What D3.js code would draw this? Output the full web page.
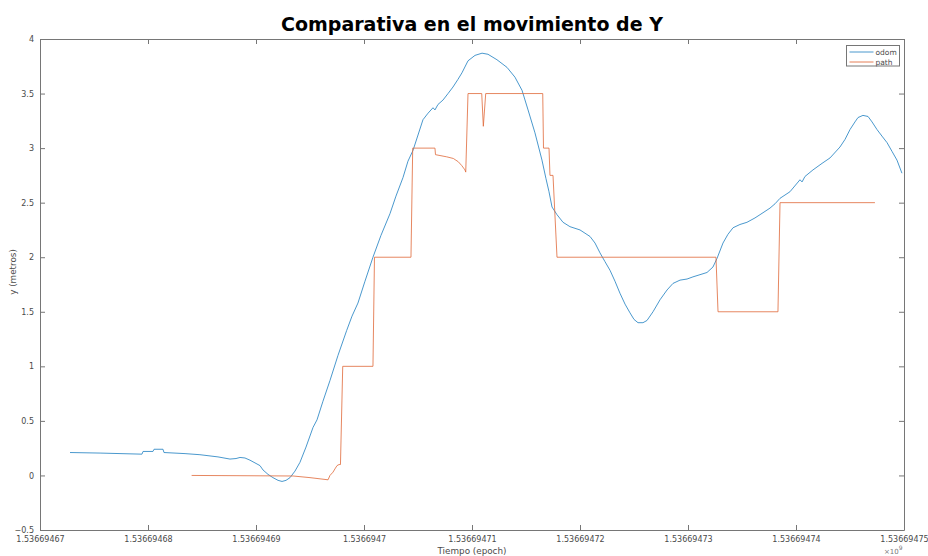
<!DOCTYPE html>
<html>
<head>
<meta charset="utf-8">
<script src="https://cdn.jsdelivr.net/npm/d3@7"></script>
<style>
  html, body { margin: 0; padding: 0; background: #fff; }
  svg { display: block; font-family: "DejaVu Sans", sans-serif; }
</style>
</head>
<body>
<svg id="chart" width="928" height="556"></svg>
<script>
// Odometry Y position over time (epoch seconds)
const odomT = [
  1536694672.78, 1536694675.56, 1536694679.44, 1536694679.54, 1536694680.46, 1536694680.56,
  1536694681.39, 1536694681.48, 1536694683.43, 1536694684.81, 1536694686.48, 1536694687.59,
  1536694688.15, 1536694688.52, 1536694688.98, 1536694689.44, 1536694690.00, 1536694690.37,
  1536694690.65, 1536694691.11, 1536694691.57, 1536694692.04, 1536694692.41, 1536694692.78,
  1536694693.15, 1536694693.61, 1536694694.07, 1536694694.63, 1536694695.28, 1536694695.65,
  1536694696.20, 1536694696.85, 1536694697.59, 1536694698.40, 1536694698.89, 1536694699.44,
  1536694700.09, 1536694700.83, 1536694701.57, 1536694702.41, 1536694702.96, 1536694703.61,
  1536694704.07, 1536694704.54, 1536694705.00, 1536694705.46, 1536694705.93, 1536694706.39,
  1536694706.57, 1536694706.85, 1536694707.31, 1536694707.78, 1536694708.24, 1536694708.70,
  1536694709.07, 1536694709.63, 1536694710.28, 1536694710.93, 1536694711.48, 1536694712.31,
  1536694713.24, 1536694713.98, 1536694714.63, 1536694715.19, 1536694715.83, 1536694716.48,
  1536694716.85, 1536694717.13, 1536694717.41, 1536694717.87, 1536694718.43, 1536694719.07,
  1536694720.00, 1536694720.93, 1536694721.39, 1536694721.85, 1536694722.31, 1536694722.78,
  1536694723.24, 1536694723.70, 1536694724.17, 1536694724.63, 1536694725.00, 1536694725.37,
  1536694725.83, 1536694726.20, 1536694726.76, 1536694727.41, 1536694728.06, 1536694728.61,
  1536694729.26, 1536694729.91, 1536694730.46, 1536694731.11, 1536694731.76, 1536694732.31,
  1536694732.69, 1536694733.24, 1536694733.70, 1536694734.17, 1536694734.81, 1536694735.46,
  1536694736.20, 1536694736.67, 1536694737.13, 1536694737.59, 1536694738.06, 1536694738.52,
  1536694739.44, 1536694740.37, 1536694740.56, 1536694740.83, 1536694741.57, 1536694742.41,
  1536694743.15, 1536694744.07, 1536694744.54, 1536694745.00, 1536694745.46, 1536694745.74,
  1536694746.20, 1536694746.67, 1536694747.04, 1536694747.50, 1536694747.96, 1536694748.43,
  1536694748.89, 1536694749.35, 1536694749.81
];
const odomY = [
  0.21, 0.205, 0.195, 0.22, 0.22, 0.24,
  0.24, 0.21, 0.20, 0.19, 0.17, 0.15,
  0.155, 0.165, 0.16, 0.14, 0.11, 0.09,
  0.05, 0.01, -0.02, -0.045, -0.055, -0.045,
  -0.02, 0.04, 0.12, 0.26, 0.44, 0.51,
  0.68, 0.87, 1.10, 1.33, 1.46, 1.58,
  1.78, 2.00, 2.20, 2.40, 2.56, 2.73,
  2.88, 2.98, 3.12, 3.26, 3.32, 3.37,
  3.35, 3.40, 3.44, 3.50, 3.56, 3.63,
  3.69, 3.80, 3.85, 3.87, 3.86, 3.81,
  3.74, 3.65, 3.53, 3.35, 3.14, 2.89,
  2.72, 2.60, 2.46, 2.39, 2.32, 2.28,
  2.25, 2.19, 2.13, 2.04, 1.96, 1.88,
  1.78, 1.67, 1.57, 1.49, 1.43, 1.40,
  1.40, 1.42, 1.50, 1.61, 1.70, 1.76,
  1.79, 1.80, 1.82, 1.84, 1.86, 1.91,
  1.99, 2.13, 2.21, 2.27, 2.30, 2.32,
  2.36, 2.39, 2.42, 2.45, 2.49, 2.54,
  2.60, 2.71, 2.69, 2.74, 2.80, 2.86,
  2.91, 3.01, 3.08, 3.17, 3.24, 3.28,
  3.30, 3.29, 3.24, 3.17, 3.11, 3.05,
  2.97, 2.89, 2.77
];

// Planned path Y position over time (epoch seconds)
const pathT = [
  1536694684.04, 1536694693.43, 1536694695.00, 1536694696.67, 1536694696.85, 1536694697.13,
  1536694697.31, 1536694697.50, 1536694697.69, 1536694697.82, 1536694698.03, 1536694700.83,
  1536694700.97, 1536694704.35, 1536694704.51, 1536694706.57, 1536694706.62, 1536694707.66,
  1536694708.27, 1536694708.73, 1536694709.05, 1536694709.35, 1536694709.42, 1536694709.63,
  1536694710.90, 1536694711.05, 1536694711.27, 1536694716.55, 1536694716.62, 1536694717.13,
  1536694717.22, 1536694717.50, 1536694717.87, 1536694732.59, 1536694732.78, 1536694738.33,
  1536694738.52, 1536694747.31
];
const pathY = [
  0.0, -0.005, -0.02, -0.04, 0.0, 0.03,
  0.06, 0.09, 0.10, 0.10, 1.0, 1.0,
  2.0, 2.0, 3.0, 3.0, 2.94, 2.92,
  2.905, 2.875, 2.84, 2.80, 2.78, 3.5,
  3.5, 3.2, 3.5, 3.5, 3.0, 3.0,
  2.75, 2.75, 2.0, 2.0, 1.5, 1.5,
  2.5, 2.5
];

const xTicks = [1536694670, 1536694680, 1536694690, 1536694700, 1536694710,
                1536694720, 1536694730, 1536694740, 1536694750];
const xTickLabels = ["1.53669467", "1.53669468", "1.53669469", "1.5366947", "1.53669471",
                     "1.53669472", "1.53669473", "1.53669474", "1.53669475"];
const yTicks = [-0.5, 0, 0.5, 1, 1.5, 2, 2.5, 3, 3.5, 4];

const seriesNames = ["odom", "path"];
const seriesColors = ["#2a86c4", "#e0693a"];

const titleText = "Comparativa en el movimiento de Y";
const xLabel = "Tiempo (epoch)";
const yLabel = "y (metros)";

const svg = d3.select("#chart");
const plotLeft = 40, plotRight = 904, plotTop = 39, plotBottom = 530;

const x = d3.scaleLinear().domain([xTicks[0], xTicks[xTicks.length - 1]]).range([plotLeft, plotRight]);
const y = d3.scaleLinear().domain([-0.5, 4]).range([plotBottom, plotTop]);

const axisColor = "#767676";
const textColor = "#4a4a4a";
const tickLen = 5;

// data lines
const odom = odomT.map((t, i) => [t, odomY[i]]);
const pathPts = pathT.map((t, i) => [t, pathY[i]]);
const line = d3.line().x(d => x(d[0])).y(d => y(d[1]));

const plot = svg.append("g");
plot.append("path").datum(odom)
  .attr("d", line).attr("fill", "none")
  .attr("stroke", seriesColors[0]).attr("stroke-width", 1).attr("stroke-opacity", 0.85);
plot.append("path").datum(pathPts)
  .attr("d", line).attr("fill", "none")
  .attr("stroke", seriesColors[1]).attr("stroke-width", 1).attr("stroke-opacity", 0.8);

// axes (boxed, ticks inward on all four sides)
const fmtX = d => xTickLabels[xTicks.indexOf(d)];
const bottomAxis = svg.append("g").attr("transform", `translate(0,${plotBottom})`)
  .call(d3.axisBottom(x).tickValues(xTicks).tickFormat(fmtX).tickSizeInner(-tickLen).tickSizeOuter(0).tickPadding(6));
const topAxis = svg.append("g").attr("transform", `translate(0,${plotTop})`)
  .call(d3.axisTop(x).tickValues(xTicks).tickFormat("").tickSizeInner(-tickLen).tickSizeOuter(0));
const leftAxis = svg.append("g").attr("transform", `translate(${plotLeft},0)`)
  .call(d3.axisLeft(y).tickValues(yTicks).tickFormat(d3.format("")).tickSizeInner(-tickLen).tickSizeOuter(0).tickPadding(6));
const rightAxis = svg.append("g").attr("transform", `translate(${plotRight},0)`)
  .call(d3.axisRight(y).tickValues(yTicks).tickFormat("").tickSizeInner(-tickLen).tickSizeOuter(0));

[bottomAxis, topAxis, leftAxis, rightAxis].forEach(g => {
  g.select(".domain").attr("stroke", axisColor).attr("stroke-width", 1);
  g.selectAll(".tick line").attr("stroke", axisColor).attr("stroke-width", 1);
  g.selectAll("text").attr("fill", textColor).attr("font-size", 8)
    .attr("font-family", "DejaVu Sans, sans-serif");
});

// title and axis labels
svg.append("text").attr("x", 472).attr("y", 31).attr("text-anchor", "middle")
  .attr("font-size", 19).attr("font-weight", "bold").attr("fill", "#000").text(titleText);
svg.append("text").attr("x", 472).attr("y", 554).attr("text-anchor", "middle")
  .attr("font-size", 8.8).attr("fill", textColor).text(xLabel);
svg.append("text").attr("transform", `translate(16,272) rotate(-90)`).attr("text-anchor", "middle")
  .attr("font-size", 8.8).attr("fill", textColor).text(yLabel);

// exponent marker
const expo = svg.append("text").attr("x", 884).attr("y", 554).attr("font-size", 7).attr("fill", "#777");
expo.append("tspan").text("\u00d710");
expo.append("tspan").attr("dy", -4).attr("font-size", 6).text("9");

// legend
const lg = svg.append("g").attr("transform", "translate(846.5,45.5)");
lg.append("rect").attr("width", 53).attr("height", 20.5).attr("fill", "#fff")
  .attr("stroke", axisColor).attr("stroke-width", 1);
seriesNames.forEach((name, i) => {
  const yy = 6.5 + i * 10;
  lg.append("line").attr("x1", 3).attr("x2", 27).attr("y1", yy).attr("y2", yy)
    .attr("stroke", seriesColors[i]).attr("stroke-width", 1).attr("stroke-opacity", 0.85);
  lg.append("text").attr("x", 29).attr("y", yy + 2.5).attr("font-size", 7.5)
    .attr("fill", textColor).text(name);
});
</script>
</body>
</html>
